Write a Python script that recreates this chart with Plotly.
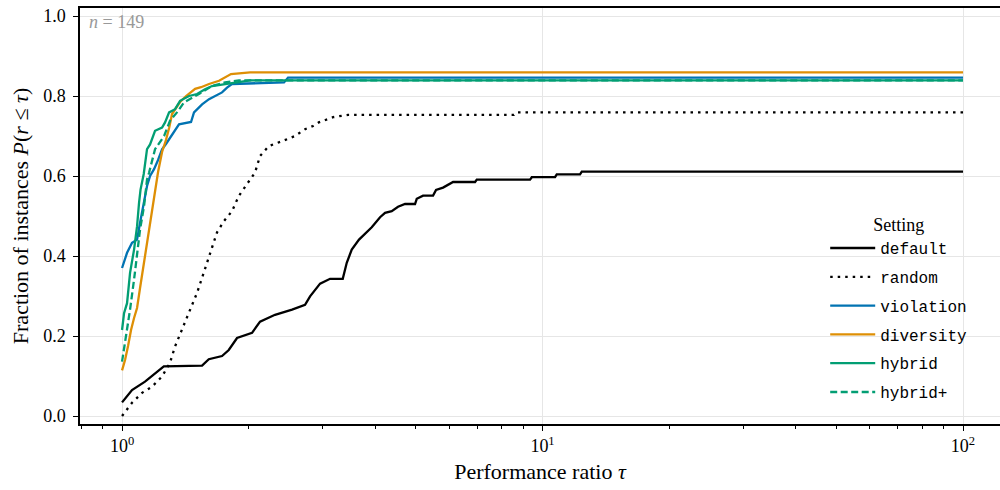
import plotly.graph_objects as go

# ---- data (tau, fraction) points ----
default_tau = [1.0, 1.056, 1.134, 1.198, 1.257, 1.550, 1.608, 1.729, 1.794, 1.877, 2.038, 2.129, 2.311,
               2.537, 2.724, 2.800, 2.958, 3.124, 3.349, 3.423, 3.518, 3.661, 3.742, 3.925, 4.108, 4.222,
               4.379, 4.533, 4.710, 4.975, 5.022, 5.199, 5.491, 5.582, 5.800, 5.961, 6.128, 6.912, 6.977,
               9.34, 9.43, 10.71, 10.81, 12.28, 12.40, 100.0]
default_val = [0.034, 0.065, 0.086, 0.107, 0.124, 0.126, 0.142, 0.150, 0.165, 0.195, 0.208, 0.236, 0.253,
               0.266, 0.278, 0.299, 0.331, 0.343, 0.343, 0.383, 0.416, 0.441, 0.451, 0.472, 0.497, 0.508,
               0.512, 0.523, 0.530, 0.530, 0.543, 0.551, 0.551, 0.565, 0.571, 0.577, 0.585, 0.585, 0.591,
               0.591, 0.597, 0.597, 0.604, 0.604, 0.611, 0.611]

random_tau = [1.0, 1.056, 1.116, 1.178, 1.245, 1.300, 1.337, 1.389, 1.441, 1.508, 1.564, 1.619, 1.682,
              1.746, 1.826, 1.895, 1.983, 2.072, 2.129, 2.234, 2.402, 2.579, 2.724, 2.846, 2.937, 3.176,
              3.447, 8.55, 8.65, 100.0]
random_val = [0.0, 0.033, 0.058, 0.073, 0.099, 0.133, 0.174, 0.216, 0.258, 0.308, 0.358, 0.408, 0.459,
              0.487, 0.512, 0.550, 0.579, 0.609, 0.650, 0.675, 0.687, 0.700, 0.717, 0.725, 0.734, 0.747,
              0.753, 0.753, 0.759, 0.759]

violation_tau = [1.0, 1.0278, 1.0563, 1.0856, 1.1036, 1.1282, 1.1466, 1.1658, 1.1915, 1.218, 1.245, 1.272,
                 1.300, 1.337, 1.366, 1.459, 1.483, 1.550, 1.610, 1.729, 1.777, 1.826, 2.428, 2.482, 100.0]
violation_val = [0.37, 0.408, 0.433, 0.441, 0.483, 0.533, 0.575, 0.600, 0.617, 0.640, 0.667, 0.680,
                 0.696, 0.715, 0.729, 0.735, 0.759, 0.779, 0.792, 0.809, 0.821, 0.830, 0.834, 0.846, 0.846]

diversity_tau = [1.0, 1.0166, 1.0334, 1.0505, 1.068, 1.0856, 1.1036, 1.1218, 1.1404, 1.1593, 1.1785, 1.198,
                 1.218, 1.245, 1.272, 1.294, 1.315, 1.344, 1.374, 1.420, 1.459, 1.492, 1.541, 1.610, 1.701,
                 1.777, 1.816, 2.016, 100.0]
diversity_val = [0.114, 0.14, 0.175, 0.215, 0.245, 0.27, 0.32, 0.37, 0.41, 0.47, 0.515, 0.57,
                 0.61, 0.66, 0.69, 0.72, 0.755, 0.77, 0.785, 0.80, 0.81, 0.818, 0.822, 0.83, 0.838,
                 0.849, 0.855, 0.859, 0.859]

hybrid_tau = [1.0, 1.011, 1.0278, 1.0448, 1.068, 1.0856, 1.0975, 1.1066, 1.1261, 1.1466, 1.1658, 1.198,
              1.245, 1.2655, 1.294, 1.337, 1.374, 1.443, 1.508, 1.575, 1.637, 1.758, 2.016, 100.0]
hybrid_val = [0.215, 0.257, 0.282, 0.358, 0.416, 0.474, 0.533, 0.566, 0.605, 0.667, 0.679, 0.713,
              0.721, 0.734, 0.759, 0.767, 0.788, 0.800, 0.805, 0.817, 0.825, 0.830, 0.839, 0.839]

hybridp_tau = [1.0, 1.0166, 1.0448, 1.068, 1.0856, 1.1036, 1.1282, 1.1466, 1.1593, 1.198, 1.259, 1.300,
               1.351, 1.404, 1.524, 1.637, 1.758, 1.897, 100.0]
hybridp_val = [0.136, 0.182, 0.266, 0.341, 0.408, 0.466, 0.525, 0.591, 0.608, 0.667, 0.700, 0.738,
               0.759, 0.784, 0.805, 0.825, 0.834, 0.839, 0.839]

names = ["default", "random", "violation", "diversity", "hybrid", "hybrid+"]
colors = ["#000000", "#000000", "#0173B2", "#DE8F05", "#029E73", "#029E73"]
dashes = ["solid", "2.5px,5px", "solid", "solid", "solid", "7px,3.5px"]
taus = [default_tau, random_tau, violation_tau, diversity_tau, hybrid_tau, hybridp_tau]
vals = [default_val, random_val, violation_val, diversity_val, hybrid_val, hybridp_val]

serif = "Liberation Serif, DejaVu Serif, serif"
mono = "Liberation Mono, DejaVu Sans Mono, monospace"

fig = go.Figure()
for i, (n, c, d, t, v) in enumerate(zip(names, colors, dashes, taus, vals)):
    fig.add_trace(go.Scatter(
        x=t, y=v, mode="lines", name=n, line=dict(color=c, width=2.3, dash=d),
        legendgroup=f"g{i}",
    ))

fig.update_layout(
    width=1000, height=490,
    margin=dict(l=80, r=0, t=8, b=66),
    plot_bgcolor="white", paper_bgcolor="white",
    font=dict(family=serif, size=18, color="black"),
    showlegend=True,
    legend=dict(
        x=0.81, y=0.52, xanchor="left", yanchor="top",
        bgcolor="rgba(255,255,255,0)",
        font=dict(family=mono, size=16, color="black"),
        title=dict(text="Setting", side="top center", font=dict(family=serif, size=18)),
        tracegroupgap=5, itemwidth=45,
    ),
    xaxis=dict(
        type="log", range=[-0.1, 2.088], automargin=False,
        tickvals=[1, 10, 100], ticktext=["10<sup>0</sup>", "10<sup>1</sup>", "10<sup>2</sup>"],
        showline=True, linecolor="black", linewidth=1.5, mirror=True,
        ticks="outside", ticklen=5, tickwidth=1.2, tickcolor="black",
        showgrid=True, gridcolor="#e6e6e6", gridwidth=1,
        zeroline=False,
        minor=dict(ticks="outside", ticklen=3, tickwidth=1, tickcolor="black", showgrid=False, dtick="D1"),
        title=dict(text="Performance ratio <i>τ</i>", standoff=8),
    ),
    yaxis=dict(
        range=[-0.02, 1.02], automargin=False,
        tickvals=[0, 0.2, 0.4, 0.6, 0.8, 1.0], tickformat=".1f",
        showline=True, linecolor="black", linewidth=1.5,
        ticks="outside", ticklen=5, tickwidth=1.2, tickcolor="black",
        ticklabelstandoff=4,
        showgrid=True, gridcolor="#e6e6e6", gridwidth=1,
        zeroline=False,
        title=dict(text="Fraction of instances <i>P</i>(<i>r</i> ≤ <i>τ</i>)", standoff=8),
    ),
    annotations=[dict(
        text="<i>n</i> = 149", xref="paper", yref="paper", x=0.008, y=0.995,
        xanchor="left", yanchor="top", showarrow=False,
        font=dict(family=serif, size=18, color="#999999"),
    )],
)

fig.write_html("out.html", config={"displayModeBar": False},
               post_script="document.body.style.margin='0';")
